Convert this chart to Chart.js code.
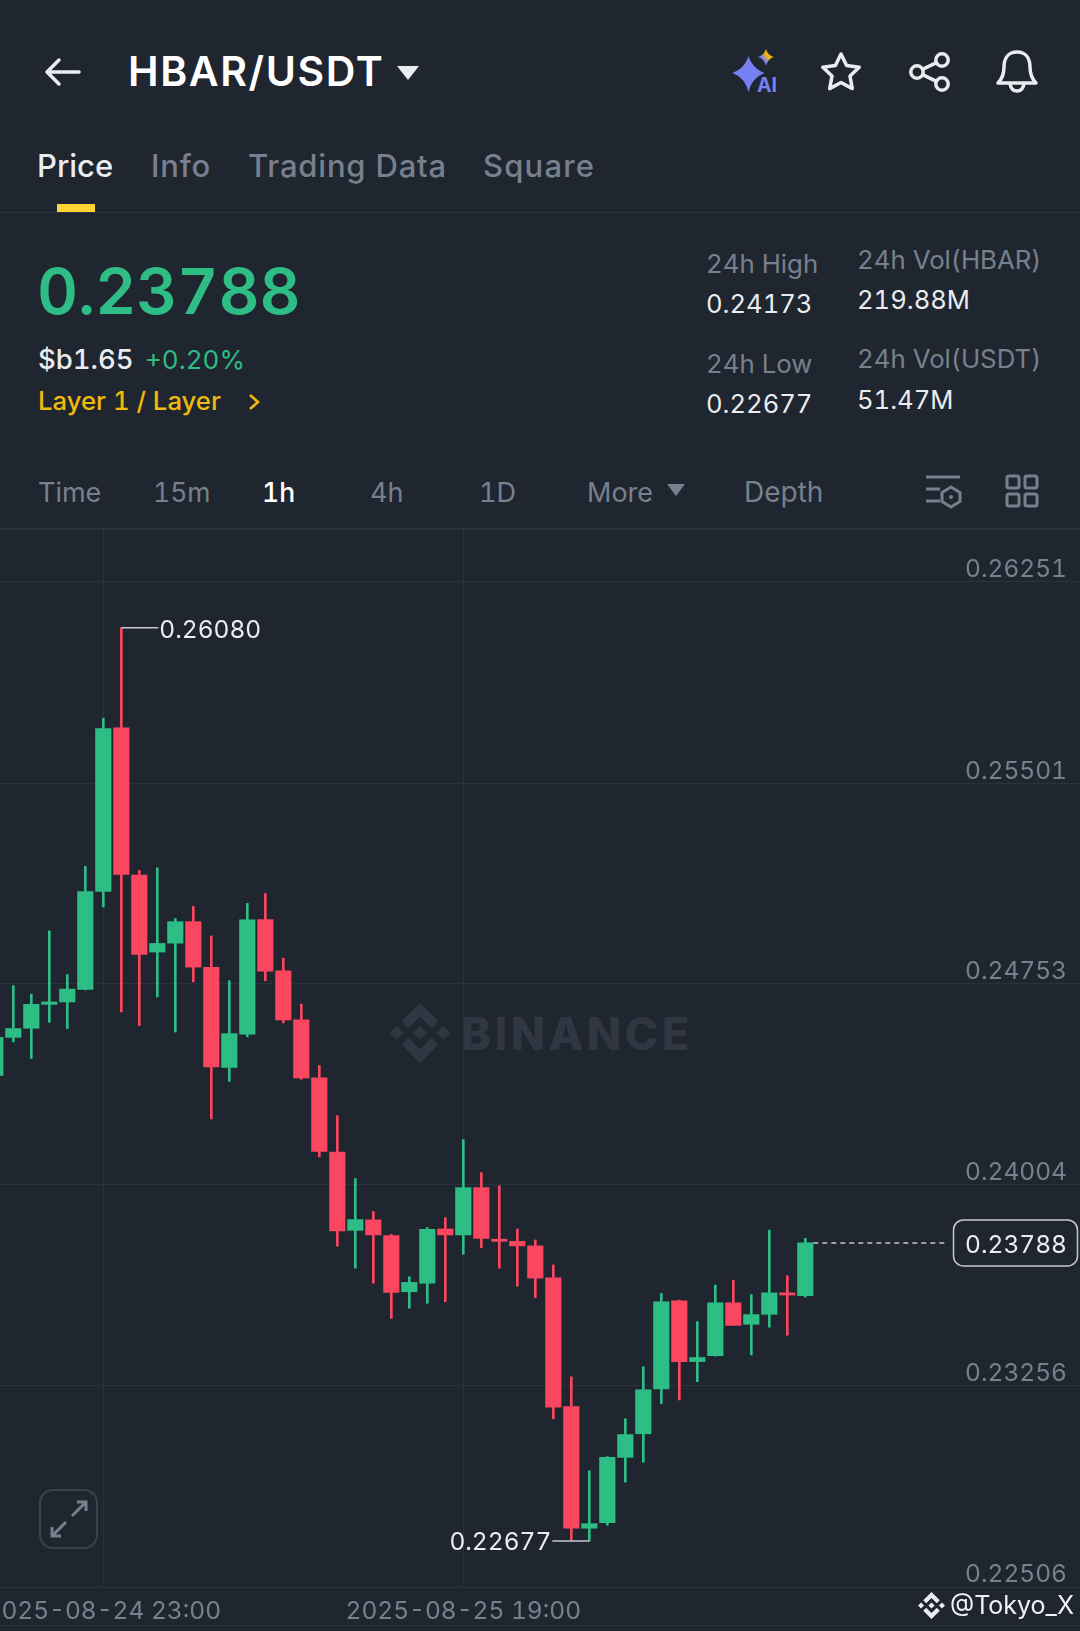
<!DOCTYPE html>
<html>
<head>
<meta charset="utf-8">
<title>HBAR/USDT</title>
<script src="https://cdn.jsdelivr.net/npm/chart.js@4"></script>
<style>
  html, body { margin: 0; padding: 0; background: #1f2630; }
  body { position: relative; width: 1080px; height: 1631px; overflow: hidden; font-family: Inter, sans-serif; font-feature-settings: "tnum"; }
  .t { position: absolute; transform: translateY(-50%); white-space: nowrap; line-height: 1; }
  .gray { color: #78808d; }
  .white { color: #eaecef; }
  .green { color: #2ebd85; }
  .yellow { color: #f0b90b; }
  .tab { font-size: 31px; font-weight: 500; }
  .tab.gray { letter-spacing: .8px; }
  .stat { font-size: 25.8px; }
  .stat.white { font-size: 25.6px; }
  .range { font-size: 27px; }
  .rule { position: absolute; left: 0; width: 1080px; height: 1px; background: #2b323c; }
  svg { position: absolute; overflow: visible; }
  canvas { position: absolute; left: 0; top: 528px; }
</style>
</head>
<body>
<!-- top bar -->
<svg style="left:45px;top:58px" width="36" height="28" fill="none" stroke="#eaecef" stroke-width="3.5" stroke-linecap="round" stroke-linejoin="round"><path d="M34 14H3M14 2L2 14l12 12"/></svg>
<span class="t white" style="left:128px;top:71px;font-size:41px;font-weight:600;letter-spacing:1.6px;color:#fff">HBAR/USDT</span>
<svg style="left:397px;top:65px" width="22" height="15"><path d="M0 1H22L11 15Z" fill="#eaecef"/></svg>
<svg style="left:733px;top:48px" width="46" height="46"><defs><linearGradient id="spark" x1="0" y1="1" x2="1" y2="0"><stop offset=".35" stop-color="#7581f2"/><stop offset=".6" stop-color="#f0b90b"/></linearGradient></defs><path d="M15.500 8C18 16 23 21.500 31.500 25 23 28.500 18 34 15.500 44 13 34 8 28.500-.5 25 8 21.500 13 16 15.500 8Z" fill="#7581f2"/><path d="M33 1C34.500 5.500 36.500 7.500 41 9 36.500 10.500 34.500 13 33 18 31.500 13 29.500 10.500 25 9 29.500 7.500 31.500 5.500 33 1Z" fill="url(#spark)"/></svg>
<span class="t" style="left:757px;top:86px;font-size:19.5px;font-weight:700;color:#7581f2">AI</span>
<svg style="left:821px;top:52px" width="40" height="39" fill="none" stroke="#eaecef" stroke-width="3.5" stroke-linejoin="round"><path d="M20 2l5.600 11.600 12.600 1.700-9.200 8.800 2.300 12.500L20 30.500 8.700 36.600 11 24.100 1.800 15.300l12.600-1.700Z"/></svg>
<svg style="left:909px;top:52px" width="41" height="40" fill="none" stroke="#eaecef" stroke-width="3.5"><circle cx="33" cy="8" r="6.200"/><circle cx="8" cy="20" r="6.200"/><circle cx="33" cy="32" r="6.200"/><path d="M13.500 17.300L27.500 10.700M13.500 22.700L27.500 29.300"/></svg>
<svg style="left:996px;top:50px" width="42" height="43" fill="none" stroke="#eaecef" stroke-width="3.5" stroke-linejoin="round"><path d="M21 2C11 2 8 10 8 17 8 25 6 29 2 33H40C36 29 34 25 34 17 34 10 31 2 21 2Z"/><path d="M14 34C15 39 18 41 21 41 24 41 27 39 28 34"/></svg>

<!-- tabs -->
<span class="t tab white" style="left:37px;top:165px">Price</span>
<span class="t tab gray" style="left:151px;top:165px">Info</span>
<span class="t tab gray" style="left:248px;top:165px">Trading Data</span>
<span class="t tab gray" style="left:483px;top:165px;letter-spacing:1.2px">Square</span>
<div style="position:absolute;left:57px;top:204px;width:38px;height:8px;background:#fcd535"></div>
<div class="rule" style="top:212px"></div>

<!-- price block -->
<span class="t green" style="left:37px;top:291px;font-size:63.5px;font-weight:600">0.23788</span>
<span class="t white" style="left:38px;top:360px;font-size:27.5px;font-weight:500">$b1.65</span>
<span class="t green" style="left:145px;top:360px;font-size:26px">+0.20%</span>
<span class="t yellow" style="left:38px;top:401px;font-size:25.7px;font-weight:500">Layer 1 / Layer</span>
<svg style="left:248px;top:393px" width="12" height="18" fill="none" stroke="#f0b90b" stroke-width="2.600"><path d="M2 2l8 7-8 7"/></svg>
<span class="t gray stat" style="left:706px;top:264px">24h High</span>
<span class="t white stat" style="left:706px;top:304px">0.24173</span>
<span class="t gray stat" style="left:706px;top:364px">24h Low</span>
<span class="t white stat" style="left:706px;top:404px">0.22677</span>
<span class="t gray stat" style="left:857px;top:260px">24h Vol(HBAR)</span>
<span class="t white stat" style="left:857px;top:300px">219.88M</span>
<span class="t gray stat" style="left:857px;top:359px">24h Vol(USDT)</span>
<span class="t white stat" style="left:857px;top:400px">51.47M</span>

<!-- interval row -->
<span class="t gray range" style="left:38px;top:492px">Time</span>
<span class="t gray range" style="left:153px;top:492px;font-size:26.5px">15m</span>
<span class="t range" style="left:262px;top:492px;color:#fff;font-weight:500;font-size:26.5px">1h</span>
<span class="t gray range" style="left:370px;top:492px">4h</span>
<span class="t gray range" style="left:479px;top:492px">1D</span>
<span class="t gray range" style="left:587px;top:492px">More</span>
<svg style="left:667px;top:484px" width="18" height="12"><path d="M0 0H18L9 12Z" fill="#78808d"/></svg>
<span class="t gray range" style="left:744px;top:492px;font-size:28px">Depth</span>
<svg style="left:926px;top:475px" width="36" height="33" fill="none" stroke="#78808d" stroke-width="3"><path d="M0 2H34M0 14H14M0 26H14"/><path d="M25 12l9 5.500v9L25 32l-9-5.500v-9Z"/><circle cx="25" cy="22" r="2" fill="#78808d" stroke="none"/></svg>
<svg style="left:1005px;top:474px" width="34" height="34" fill="none" stroke="#78808d" stroke-width="3"><rect x="2" y="2" width="12" height="12" rx="2"/><rect x="20" y="2" width="12" height="12" rx="2"/><rect x="2" y="20" width="12" height="12" rx="2"/><rect x="20" y="20" width="12" height="12" rx="2"/></svg>
<div class="rule" style="top:528px;height:2px"></div>

<!-- BINANCE watermark, sits under the canvas -->
<svg style="left:390px;top:1003px" width="60" height="60" fill="#303742" viewBox="0 0 126.610 126.610"><path d="M38.730 53.200l24.590-24.580 24.600 24.600 14.300-14.310L63.320 0 24.430 38.900z M0 63.310L14.300 49l14.310 14.310L14.300 77.610z M38.730 73.410l24.590 24.590 24.600-24.600 14.310 14.290-38.900 38.910-38.910-38.880z M98 63.310l14.300-14.310 14.310 14.310-14.310 14.300z M77.830 63.300L63.320 48.780 48.810 63.280l14.510 14.500z"/></svg>
<span class="t" style="left:461px;top:1033px;font-size:45px;font-weight:800;letter-spacing:3.5px;color:#303742">BINANCE</span>

<canvas id="chart" width="1080" height="1103"></canvas>

<!-- things on top of the chart -->
<svg style="left:39px;top:1489px" width="59" height="60" fill="none" stroke="#3a424d" stroke-width="2"><rect x="1" y="1" width="57" height="58" rx="13"/><path stroke="#78808d" stroke-width="3" d="M33 27L46 14M38 13H47V22M27 33L14 46M22 47H13V38"/></svg>
<div class="rule" style="top:1625px"></div>
<svg style="left:918px;top:1592px" width="27" height="27" fill="#eaecef" viewBox="0 0 126.610 126.610"><path d="M38.730 53.200l24.590-24.580 24.600 24.600 14.300-14.310L63.320 0 24.430 38.900z M0 63.310L14.300 49l14.310 14.310L14.300 77.610z M38.730 73.410l24.590 24.590 24.600-24.600 14.310 14.290-38.900 38.910-38.910-38.880z M98 63.310l14.300-14.310 14.310 14.310-14.310 14.300z M77.830 63.300L63.320 48.780 48.810 63.280l14.510 14.500z"/></svg>
<span class="t" style="left:950px;top:1605px;font-size:25px;color:#f0f1f3">@Tokyo_X</span>

<script>
// hourly candles
const hours = [
  "2025-08-24 17:00", "2025-08-24 18:00", "2025-08-24 19:00", "2025-08-24 20:00", "2025-08-24 21:00", "2025-08-24 22:00",
  "2025-08-24 23:00", "2025-08-25 00:00", "2025-08-25 01:00", "2025-08-25 02:00", "2025-08-25 03:00", "2025-08-25 04:00",
  "2025-08-25 05:00", "2025-08-25 06:00", "2025-08-25 07:00", "2025-08-25 08:00", "2025-08-25 09:00", "2025-08-25 10:00",
  "2025-08-25 11:00", "2025-08-25 12:00", "2025-08-25 13:00", "2025-08-25 14:00", "2025-08-25 15:00", "2025-08-25 16:00",
  "2025-08-25 17:00", "2025-08-25 18:00", "2025-08-25 19:00", "2025-08-25 20:00", "2025-08-25 21:00", "2025-08-25 22:00",
  "2025-08-25 23:00", "2025-08-26 00:00", "2025-08-26 01:00", "2025-08-26 02:00", "2025-08-26 03:00", "2025-08-26 04:00",
  "2025-08-26 05:00", "2025-08-26 06:00", "2025-08-26 07:00", "2025-08-26 08:00", "2025-08-26 09:00", "2025-08-26 10:00",
  "2025-08-26 11:00", "2025-08-26 12:00", "2025-08-26 13:00", "2025-08-26 14:00",
];
const opens = [
  0.24412, 0.24554, 0.24588, 0.24677, 0.24686, 0.24733, 0.25098, 0.25707, 0.25159, 0.24872, 0.24905, 0.24985,
  0.24815, 0.24442, 0.24566, 0.24993, 0.24802, 0.24619, 0.24403, 0.24127, 0.23835, 0.23874, 0.23815, 0.23606,
  0.23638, 0.23840, 0.23818, 0.23994, 0.23802, 0.23794, 0.23777, 0.23658, 0.23178, 0.22725, 0.22746, 0.22989,
  0.23077, 0.23244, 0.23572, 0.23346, 0.23368, 0.23565, 0.23485, 0.23522, 0.23602, 0.23592,
];
const closes = [
  0.24554, 0.24587, 0.24677, 0.24686, 0.24734, 0.25097, 0.25705, 0.25161, 0.24863, 0.24904, 0.24985, 0.24816,
  0.24444, 0.24568, 0.24992, 0.24801, 0.24619, 0.24403, 0.24129, 0.23833, 0.23875, 0.23818, 0.23604, 0.23641,
  0.23839, 0.23818, 0.23994, 0.23805, 0.23794, 0.23777, 0.23657, 0.23176, 0.22725, 0.22742, 0.22989, 0.23074,
  0.23241, 0.23569, 0.23346, 0.23361, 0.23565, 0.23481, 0.23521, 0.23602, 0.23594, 0.23788,
];
const highs = [
  0.24575, 0.24747, 0.24715, 0.24951, 0.24788, 0.25191, 0.25743, 0.26080, 0.25176, 0.25186, 0.24997, 0.25042,
  0.24932, 0.24765, 0.25053, 0.25090, 0.24849, 0.24678, 0.24449, 0.24262, 0.24028, 0.23905, 0.23820, 0.23662,
  0.23845, 0.23882, 0.24173, 0.24050, 0.24001, 0.23840, 0.23799, 0.23706, 0.23289, 0.22939, 0.22992, 0.23133,
  0.23327, 0.23600, 0.23575, 0.23495, 0.23631, 0.23649, 0.23595, 0.23836, 0.23666, 0.23805,
];
const lows = [
  0.24380, 0.24537, 0.24475, 0.24610, 0.24587, 0.24731, 0.25040, 0.24649, 0.24598, 0.24705, 0.24574, 0.24761,
  0.24250, 0.24390, 0.24556, 0.24765, 0.24608, 0.24398, 0.24109, 0.23776, 0.23694, 0.23638, 0.23507, 0.23545,
  0.23563, 0.23569, 0.23746, 0.23770, 0.23694, 0.23627, 0.23584, 0.23133, 0.22680, 0.22677, 0.22736, 0.22897,
  0.22971, 0.23189, 0.23203, 0.23271, 0.23366, 0.23480, 0.23371, 0.23474, 0.23444, 0.23586,
];
const priceTicks = [0.26251, 0.25501, 0.24753, 0.24004, 0.23256, 0.22506];
const timeTicks = ["2025-08-24 23:00", "2025-08-25 19:00"];
const lastPrice = 0.23788;

const UP = "#2ebd85";
const DOWN = "#fb4660";
const GRID = "#2b323c";
const candleColors = opens.map((o, i) => (closes[i] >= o ? UP : DOWN));

Chart.defaults.font.family = "Inter, sans-serif";

// high / low callouts and the last price tag
const callouts = {
  id: "callouts",
  afterDatasetsDraw(chart) {
    const { ctx, scales } = chart;
    const hi = highs.indexOf(Math.max(...highs));
    const lo = lows.indexOf(Math.min(...lows));
    const hx = scales.x.getPixelForValue(hi);
    const hy = scales.y.getPixelForValue(highs[hi]);
    const lx = scales.x.getPixelForValue(lo);
    const ly = scales.y.getPixelForValue(lows[lo]);
    const n = hours.length - 1;
    const px = scales.x.getPixelForValue(n) + 8;
    const py = scales.y.getPixelForValue(lastPrice);

    ctx.save();
    ctx.font = "24.5px Inter, sans-serif";
    ctx.textBaseline = "middle";
    ctx.strokeStyle = "#c4c8ce";
    ctx.lineWidth = 1.5;

    ctx.beginPath();
    ctx.moveTo(hx, hy);
    ctx.lineTo(hx + 37, hy);
    ctx.moveTo(lx, ly);
    ctx.lineTo(lx - 37, ly);
    ctx.stroke();

    ctx.fillStyle = "#eaecef";
    ctx.textAlign = "left";
    ctx.fillText(highs[hi].toFixed(5), hx + 38, hy + 3);
    ctx.textAlign = "right";
    ctx.fillText(lows[lo].toFixed(5), lx - 38, ly + 2);

    // dashed line out to the tag
    ctx.setLineDash([5, 4]);
    ctx.beginPath();
    ctx.moveTo(px, py);
    ctx.lineTo(948, py);
    ctx.stroke();
    ctx.setLineDash([]);

    ctx.beginPath();
    ctx.roundRect(953.5, py - 23, 124, 46, 10);
    ctx.fillStyle = "#1f2630";
    ctx.fill();
    ctx.stroke();
    ctx.fillStyle = "#eaecef";
    ctx.fillText(lastPrice.toFixed(5), 1067, py + 3);
    ctx.restore();
  },
};

new Chart(document.getElementById("chart"), {
  type: "bar",
  data: {
    datasets: [
      {
        label: "body",
        data: opens.map((o, i) => ({ x: i, y: [o, closes[i]] })),
        backgroundColor: candleColors,
        barThickness: 15.5,
        grouped: false,
      },
      {
        label: "wick",
        data: lows.map((l, i) => ({ x: i, y: [l, highs[i]] })),
        backgroundColor: candleColors,
        barThickness: 2,
        grouped: false,
      },
    ],
  },
  plugins: [callouts],
  options: {
    responsive: false,
    animation: false,
    layout: { padding: 0 },
    plugins: { legend: { display: false }, tooltip: { enabled: false } },
    scales: {
      x: {
        type: "linear",
        offset: false,
        min: 0.261,
        max: 60.261,
        border: { display: false },
        grid: { color: GRID, offset: false, drawTicks: false },
        afterBuildTicks(scale) {
          scale.ticks = timeTicks.map((t) => ({ value: hours.indexOf(t) }));
        },
        afterFit(scale) {
          scale.height = 44;
          scale.paddingLeft = 0;
          scale.paddingRight = 0;
        },
        ticks: {
          autoSkip: false,
          maxRotation: 0,
          minRotation: 0,
          padding: 10,
          color: "#78808d",
          font: { size: 24.5 },
          callback: (v) => hours[v],
        },
      },
      y: {
        position: "right",
        min: 0.22506,
        max: 0.26452,
        beginAtZero: false,
        border: { display: false },
        grid: { color: GRID, drawTicks: false },
        afterBuildTicks(scale) {
          scale.ticks = priceTicks.map((v) => ({ value: v }));
        },
        afterFit(scale) {
          scale.width = 0;
          scale.paddingTop = 0;
          scale.paddingBottom = 0;
        },
        ticks: {
          mirror: true,
          padding: -13,
          labelOffset: -12,
          color: "#78808d",
          font: { size: 24.5 },
          callback: (v) => v.toFixed(5),
        },
      },
    },
  },
});
</script>
</body>
</html>
